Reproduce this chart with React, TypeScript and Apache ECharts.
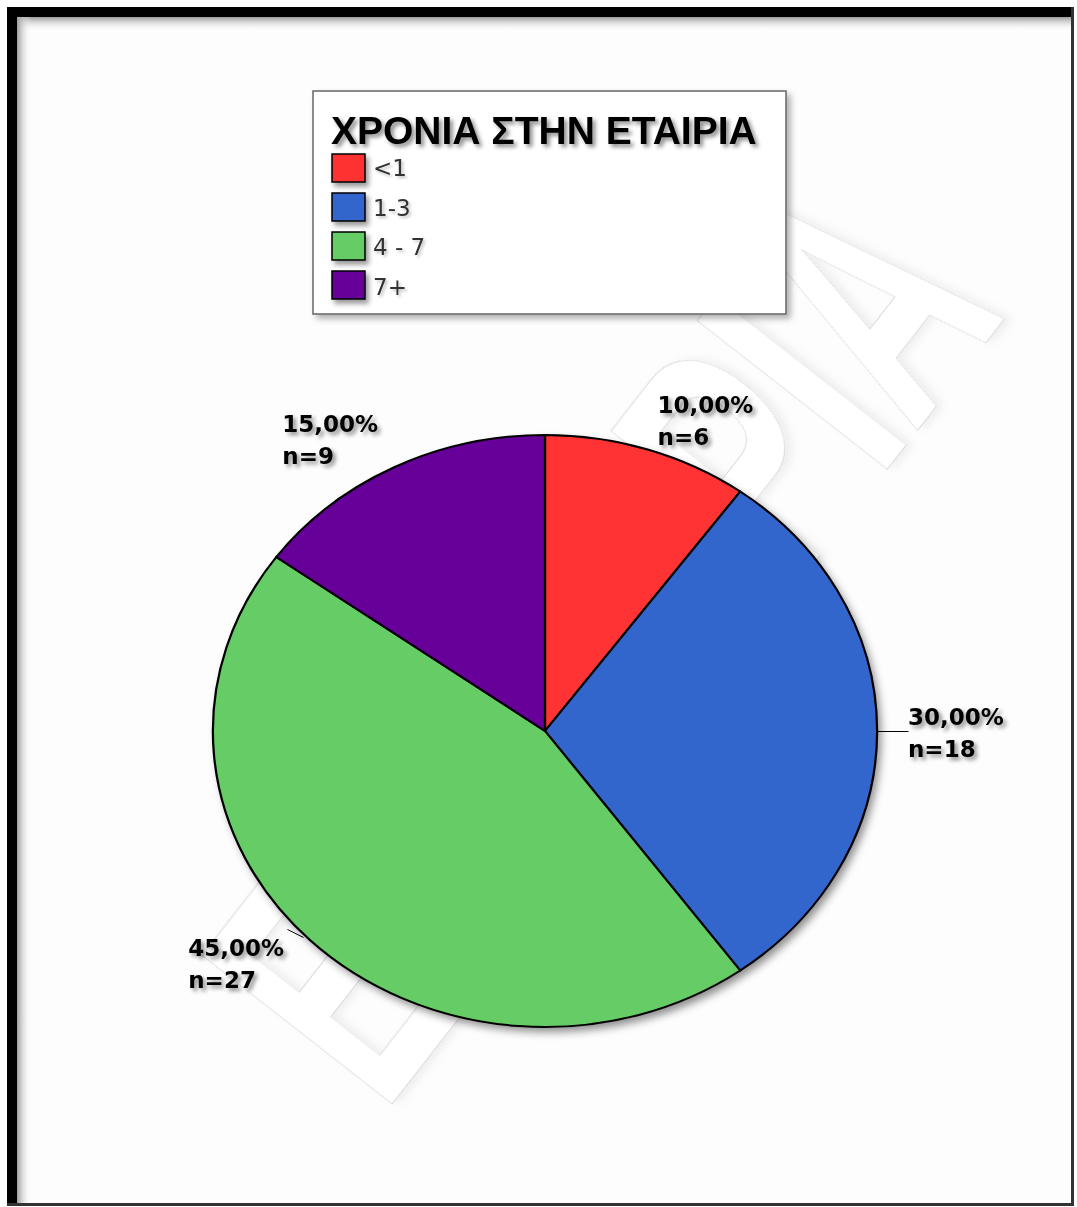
import React, { useEffect, useRef } from "react";
import * as echarts from "echarts";

// ---- data ----
const categories: string[] = ["<1", "1-3", "4 - 7", "7+"];
const counts: number[] = [6, 18, 27, 9];
const legendTitle = "ΧΡΟΝΙΑ ΣΤΗΝ ΕΤΑΙΡΙΑ";
const watermarkText = "ΕΜΠΕΙΡΙΑ";

// ---- style / layout config ----
const colors = ["#FF3333", "#3366CC", "#66CC66", "#660099"];
const W = 1077;
const H = 1207;
const CX = 545;
const CY = 731;
const RX = 332;
const RY = 296;
// label top-left offsets relative to slice edge mid-point
const labelOffsets: number[][] = [
  [10, -60],
  [31, -30],
  [-122, -8],
  [-112, -59],
];
// leader lines relative to slice edge mid-point
const leaders: (number[] | null)[] = [null, [0, 0, 31, 0], [-23, -11, -7, -3], null];

const total = counts.reduce((a, b) => a + b, 0);
const cumulative: number[] = [];
counts.reduce((acc, v, i) => {
  cumulative[i] = acc;
  return acc + v;
}, 0);
const fmtPct = (v: number) => ((v / total) * 100).toFixed(2).replace(".", ",") + "%";

const textShadow = {
  textShadowColor: "rgba(0,0,0,0.45)",
  textShadowBlur: 4,
  textShadowOffsetX: 3,
  textShadowOffsetY: 3,
};

export default function App() {
  const ref = useRef<HTMLDivElement>(null);
  useEffect(() => {
    if (!ref.current) return;
    const chart = echarts.init(ref.current, undefined, { renderer: "svg" });

    const fadeV = new echarts.graphic.LinearGradient(0, 0, 0, 1, [
      { offset: 0, color: "#9c9c9c" },
      { offset: 1, color: "rgba(253,253,253,0)" },
    ]);
    const fadeH = new echarts.graphic.LinearGradient(0, 0, 1, 0, [
      { offset: 0, color: "#9c9c9c" },
      { offset: 1, color: "rgba(253,253,253,0)" },
    ]);

    const legendItems: any[] = [];
    categories.forEach((c, i) => {
      legendItems.push({
        type: "rect",
        z: 21,
        shape: { x: 332, y: 154 + i * 39, width: 33, height: 28 },
        style: {
          fill: colors[i],
          stroke: "#000",
          lineWidth: 1.5,
          shadowColor: "rgba(0,0,0,0.4)",
          shadowBlur: 5,
          shadowOffsetX: 3,
          shadowOffsetY: 4,
        },
      });
      legendItems.push({
        type: "text",
        z: 21,
        x: 373,
        y: 168 + i * 39.5,
        style: {
          text: c,
          font: '23px "DejaVu Sans"',
          fill: "#333",
          align: "left",
          verticalAlign: "middle",
          textAlign: "left",
          textVerticalAlign: "middle",
          textShadowColor: "rgba(0,0,0,0.25)",
          textShadowBlur: 3,
          textShadowOffsetX: 2,
          textShadowOffsetY: 2,
        },
      });
    });

    const option: any = {
      animation: false,
      backgroundColor: "#ffffff",
      graphic: {
        elements: [
          // page background
          { type: "rect", z: 0, shape: { x: 7, y: 7, width: 1067, height: 1199 }, style: { fill: "#fdfdfd" } },
          // watermark
          {
            type: "text",
            z: 1,
            x: 600,
            y: 640,
            rotation: (52 * Math.PI) / 180,
            scaleX: 0.6,
            style: {
              text: watermarkText,
              font: 'bold 350px "Liberation Sans"',
              fill: "#ffffff",
              stroke: "#cccccc",
              lineWidth: 1.5,
              align: "center",
              verticalAlign: "middle",
              textAlign: "center",
              textVerticalAlign: "middle",
              textShadowColor: "rgba(0,0,0,0.06)",
              textShadowBlur: 8,
              textShadowOffsetX: 5,
              textShadowOffsetY: 5,
            },
          },
          // inner frame shadows
          { type: "rect", z: 3, shape: { x: 17, y: 17, width: 1054, height: 14 }, style: { fill: fadeV } },
          { type: "rect", z: 3, shape: { x: 17, y: 17, width: 14, height: 1186 }, style: { fill: fadeH } },
          // frame borders
          { type: "rect", z: 4, shape: { x: 7, y: 7, width: 1067, height: 10 }, style: { fill: "#000" } },
          { type: "rect", z: 4, shape: { x: 7, y: 7, width: 10, height: 1199 }, style: { fill: "#000" } },
          { type: "rect", z: 4, shape: { x: 1071, y: 7, width: 3, height: 1199 }, style: { fill: "#333" } },
          { type: "rect", z: 4, shape: { x: 7, y: 1203, width: 1067, height: 3 }, style: { fill: "#333" } },
          // pie shadow
          {
            type: "ellipse",
            z: 1,
            shape: { cx: CX, cy: CY, rx: RX, ry: RY },
            style: {
              fill: "#fff",
              shadowColor: "rgba(0,0,0,0.45)",
              shadowBlur: 8,
              shadowOffsetX: 4,
              shadowOffsetY: 5,
            },
          },
          // legend box
          {
            type: "rect",
            z: 20,
            shape: { x: 313, y: 91, width: 473, height: 223 },
            style: {
              fill: "#fff",
              stroke: "#666",
              lineWidth: 1.5,
              shadowColor: "rgba(0,0,0,0.3)",
              shadowBlur: 6,
              shadowOffsetX: 4,
              shadowOffsetY: 4,
            },
          },
          {
            type: "text",
            z: 21,
            x: 331,
            y: 130,
            style: {
              text: legendTitle,
              font: 'bold 39px "Liberation Sans"',
              fill: "#000",
              align: "left",
              verticalAlign: "middle",
              textAlign: "left",
              textVerticalAlign: "middle",
              ...textShadow,
            },
          },
          ...legendItems,
        ],
      },
      series: [
        {
          type: "custom",
          coordinateSystem: "none",
          z: 5,
          data: counts.map((v, i) => ({ name: categories[i], value: [v] })),
          renderItem: (params: any, api: any) => {
            const i = params.dataIndex;
            const v = api.value(0);
            const start = (cumulative[i] / total) * Math.PI * 2 - Math.PI / 2;
            const end = start + (v / total) * Math.PI * 2;
            const mid = (start + end) / 2;
            const ex = CX + RX * Math.cos(mid);
            const ey = CY + RY * Math.sin(mid);
            const children: any[] = [
              {
                type: "sector",
                x: CX,
                y: CY,
                scaleX: RX / RY,
                scaleY: 1,
                shape: { cx: 0, cy: 0, r0: 0, r: RY, startAngle: start, endAngle: end, clockwise: true },
                style: { fill: colors[i], stroke: "#000", lineWidth: 2, strokeNoScale: true },
              },
              {
                type: "text",
                x: ex + labelOffsets[i][0],
                y: ey + labelOffsets[i][1],
                style: {
                  text: fmtPct(v) + "\nn=" + v,
                  font: 'bold 23px "DejaVu Sans"',
                  fill: "#000",
                  lineHeight: 32,
                  align: "left",
                  verticalAlign: "top",
                  textAlign: "left",
                  textVerticalAlign: "top",
                  ...textShadow,
                },
              },
            ];
            const ld = leaders[i];
            if (ld) {
              children.push({
                type: "line",
                shape: {
                  x1: Math.round(ex + ld[0]) + 0.5,
                  y1: Math.round(ey + ld[1]) + 0.5,
                  x2: Math.round(ex + ld[2]) + 0.5,
                  y2: Math.round(ey + ld[3]) + 0.5,
                },
                style: { stroke: "#000", lineWidth: 1 },
              });
            }
            return { type: "group", children };
          },
        },
      ],
    };
    chart.setOption(option);
    return () => chart.dispose();
  }, []);
  return (
    <div
      ref={ref}
      style={{ position: "absolute", left: 0, top: 0, width: W, height: H }}
    />
  );
}
